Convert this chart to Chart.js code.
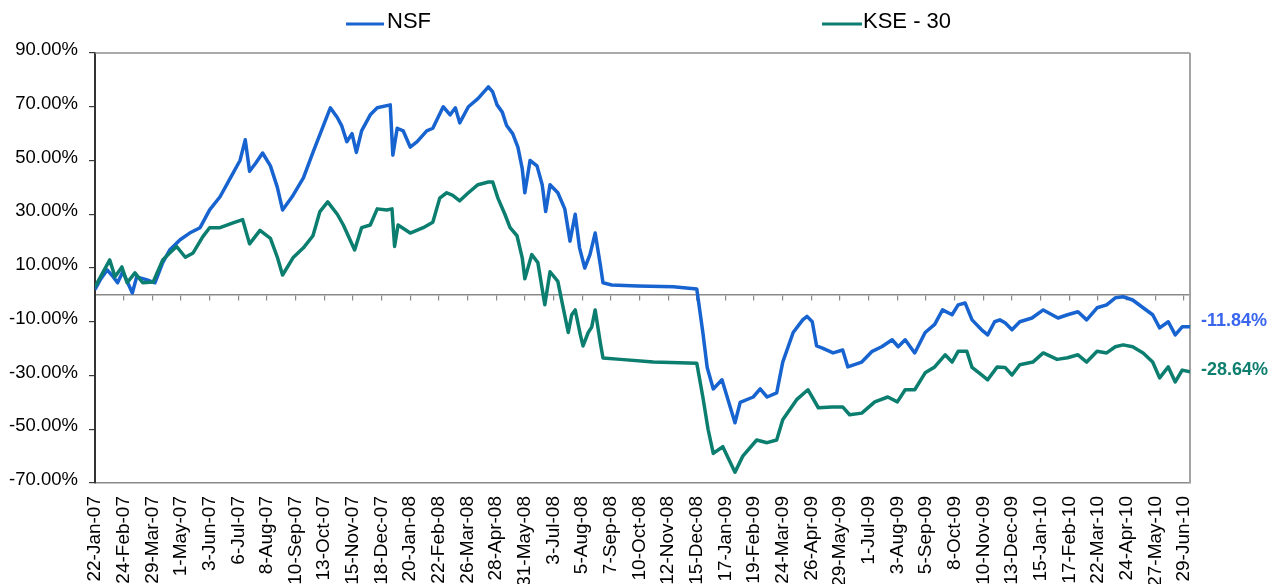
<!DOCTYPE html>
<html>
<head>
<meta charset="utf-8">
<script src="https://cdn.jsdelivr.net/npm/chart.js@4.4.1/dist/chart.umd.min.js"></script>
<style>
html,body{margin:0;padding:0;background:#ffffff;}
#wrap{width:1285px;height:584px;position:relative;}
</style>
</head>
<body>
<div id="wrap"><canvas id="c" width="1285" height="584"></canvas></div>
<script>
// ---------------- data ----------------
const seriesNames = ['NSF', 'KSE - 30'];
const endLabels = ['-11.84%', '-28.64%'];

const xTickLabels = ['22-Jan-07','24-Feb-07','29-Mar-07','1-May-07','3-Jun-07','6-Jul-07','8-Aug-07','10-Sep-07','13-Oct-07','15-Nov-07','18-Dec-07','20-Jan-08','22-Feb-08','26-Mar-08','28-Apr-08','31-May-08','3-Jul-08','5-Aug-08','7-Sep-08','10-Oct-08','12-Nov-08','15-Dec-08','17-Jan-09','19-Feb-09','24-Mar-09','26-Apr-09','29-May-09','1-Jul-09','3-Aug-09','5-Sep-09','8-Oct-09','10-Nov-09','13-Dec-09','15-Jan-10','17-Feb-10','22-Mar-10','24-Apr-10','27-May-10','29-Jun-10'];
const xMaxDay = 1261; // last data day (days after 22-Jan-07)

const yTickValues = [-70, -50, -30, -10, 10, 30, 50, 70, 90];
const yTickLabels = ['-70.00%','-50.00%','-30.00%','-10.00%','10.00%','30.00%','50.00%','70.00%','90.00%'];

// days after 22-Jan-07, cumulative return in %
const nsfDays = [0,6,14,21,26,32,43,48,60,69,78,86,98,109,121,132,144,155,167,173,178,185,193,202,210,216,228,240,251,263,271,279,284,290,296,301,307,317,325,340,343,348,355,363,371,382,389,401,409,415,420,430,441,453,458,463,469,474,481,487,492,495,501,509,515,519,524,533,541,547,553,558,564,570,576,582,585,595,625,666,693,700,705,712,722,737,743,758,766,774,785,792,804,815,820,826,831,837,850,861,867,883,895,906,918,925,933,944,956,967,976,987,994,1002,1010,1021,1028,1036,1042,1048,1056,1065,1079,1092,1109,1120,1132,1142,1154,1165,1175,1184,1195,1207,1218,1226,1236,1244,1252,1261];
const nsfValues = [2,5.6,9.3,6.7,4.5,8.6,0.7,6.7,5.6,4.5,12,16.7,20.5,23,25,31.6,36.5,43,50,57.7,46,49,52.8,48,40,31.6,37,43.5,53,63,69.6,66,63,57,60,53,61,67,69.6,70.7,52,62,61,55,57,61,62,70,67,69.6,64,70,73,77.4,75.5,70.7,68,63,60,55,47,38,50,48,41,31,41,38,32,20,30,17.5,10,15,23,11,4.5,3.7,3.3,3,2.2,-14,-27,-35,-31.6,-47.6,-40,-38,-35,-38,-36.5,-25,-14,-9.3,-8,-10,-19,-19.7,-21.6,-20.5,-26.8,-25,-21,-19.3,-16.7,-19.3,-16.7,-21.6,-14,-11,-5.6,-7.4,-3.7,-3,-9.3,-13,-14.9,-10,-9.3,-10.4,-13,-10,-8.6,-5.6,-8.6,-7.4,-6.3,-9.3,-4.8,-3.7,-1.1,-0.7,-1.9,-4.8,-7.4,-12.3,-10,-14.9,-11.9,-11.84];

const kseDays = [0,17,23,31,37,46,55,67,78,86,94,104,113,124,132,144,159,170,178,190,202,210,216,228,240,251,259,268,279,286,299,307,317,325,336,342,345,349,363,378,389,397,405,412,420,430,441,453,458,464,472,478,486,492,495,503,510,518,524,533,538,545,549,553,559,562,568,572,576,582,585,605,643,693,700,706,712,723,737,746,762,774,785,792,808,821,833,849,861,869,883,898,913,924,933,944,956,967,979,987,994,1004,1010,1021,1028,1039,1048,1056,1065,1080,1092,1108,1120,1132,1142,1154,1165,1175,1184,1195,1207,1218,1226,1236,1244,1252,1261];
const kseValues = [3,13,6.7,10.4,4.5,8.2,4.5,4.8,13,15.6,18,14,15.6,21.6,25,25,26.8,28,19,24,21,14,7.4,13.8,17.5,22,31,34.6,30,26,16.7,25,26,32,31.6,32,18,26,23,25,27,36,38,37,35,38,41,42,42,36,30,25,22,13.8,6,15,12,-3.7,8.6,5,-3,-14,-7.4,-5.6,-15,-19,-14,-12,-5.6,-18,-23.5,-24,-25,-25.4,-38,-50,-59,-56.5,-66,-60,-54,-55,-54,-46.5,-39,-35.3,-42,-41.7,-41.7,-44.6,-44,-39.8,-38,-39.8,-35.3,-35.3,-29,-26.8,-22.3,-25,-21,-21,-27,-29.8,-31.6,-26.8,-27,-29.8,-26,-25,-21.6,-24,-23.4,-22.3,-25,-21,-21.6,-19.3,-18.6,-19.3,-21.6,-25,-30.9,-26.8,-32.4,-28,-28.64];

// ---------------- helpers ----------------
const MONTHS = {Jan:0,Feb:1,Mar:2,Apr:3,May:4,Jun:5,Jul:6,Aug:7,Sep:8,Oct:9,Nov:10,Dec:11};
function labelToDay(s){ const p = s.split('-'); return Date.UTC(2000 + Number(p[2]), MONTHS[p[1]], Number(p[0])) / 86400000; }
const baseDay = labelToDay(xTickLabels[0]);
const xTickDays = xTickLabels.map(s => labelToDay(s) - baseDay);

function toPoints(days, vals){ return days.map((d, i) => ({x: d, y: vals[i]})); }

const FONT = 'Arial, "Liberation Sans", sans-serif';
const colors = {
  nsf: '#1763d0',
  kse: '#0b7e6f',
  nsfLabel: '#3a66ee',
  kseLabel: '#0e7e6e'
};

// plot frame (top and right edges)
const framePlugin = {
  id: 'frame',
  beforeDatasetsDraw(chart){
    const {ctx, chartArea: a} = chart;
    ctx.save();
    ctx.strokeStyle = '#8e8e8e';
    ctx.lineWidth = 1.5;
    ctx.beginPath();
    ctx.moveTo(a.left, a.top);
    ctx.lineTo(a.right, a.top);
    ctx.stroke();
    ctx.strokeStyle = '#a3a3a3';
    ctx.lineWidth = 2;
    ctx.beginPath();
    ctx.moveTo(a.right, a.top);
    ctx.lineTo(a.right, a.bottom);
    ctx.stroke();
    ctx.restore();
  }
};

// labels at the end of each series
const endLabelPlugin = {
  id: 'endLabels',
  afterDatasetsDraw(chart){
    const ctx = chart.ctx;
    chart.data.datasets.forEach((ds, i) => {
      const meta = chart.getDatasetMeta(i);
      const pt = meta.data[meta.data.length - 1];
      if (!pt) return;
      ctx.save();
      ctx.font = 'bold 18px ' + FONT;
      ctx.fillStyle = ds.endLabelColor;
      ctx.textAlign = 'left';
      ctx.textBaseline = 'middle';
      ctx.fillText(ds.endLabel, chart.chartArea.right + 11, pt.y + ds.endLabelShift);
      ctx.restore();
    });
  }
};

// legend with short line samples
const legendPlugin = {
  id: 'lineLegend',
  afterDraw(chart){
    const ctx = chart.ctx;
    const slots = [{x: 346, w: 38, tx: 387}, {x: 822, w: 40, tx: 863}];
    chart.data.datasets.forEach((ds, i) => {
      const s = slots[i];
      ctx.save();
      ctx.strokeStyle = ds.borderColor;
      ctx.lineWidth = 3;
      ctx.beginPath();
      ctx.moveTo(s.x, 24);
      ctx.lineTo(s.x + s.w, 24);
      ctx.stroke();
      ctx.font = '22px ' + FONT;
      ctx.fillStyle = '#000';
      ctx.textAlign = 'left';
      ctx.textBaseline = 'middle';
      ctx.fillText(ds.label, s.tx, 22);
      ctx.restore();
    });
  }
};

const setXTicks = (axis) => { axis.ticks = xTickDays.map(v => ({value: v})); };

new Chart(document.getElementById('c'), {
  type: 'line',
  data: {
    datasets: [
      {
        label: seriesNames[0],
        data: toPoints(nsfDays, nsfValues),
        borderColor: colors.nsf,
        backgroundColor: colors.nsf,
        borderWidth: 3.5,
        pointRadius: 0,
        tension: 0,
        borderJoinStyle: 'round',
        order: 1,
        endLabel: endLabels[0],
        endLabelColor: colors.nsfLabel,
        endLabelShift: -6
      },
      {
        label: seriesNames[1],
        data: toPoints(kseDays, kseValues),
        borderColor: colors.kse,
        backgroundColor: colors.kse,
        borderWidth: 3.5,
        pointRadius: 0,
        tension: 0,
        borderJoinStyle: 'round',
        order: 0,
        endLabel: endLabels[1],
        endLabelColor: colors.kseLabel,
        endLabelShift: -2
      }
    ]
  },
  options: {
    responsive: false,
    animation: false,
    devicePixelRatio: 1,
    layout: { padding: { top: 53, right: 95, left: 0, bottom: 0 } },
    plugins: {
      legend: { display: false },
      tooltip: { enabled: false }
    },
    scales: {
      x: {
        type: 'linear',
        position: 'bottom',
        min: 0,
        max: xMaxDay,
        afterBuildTicks: setXTicks,
        afterFit: (s) => { s.height = 101; },
        ticks: {
          autoSkip: false,
          minRotation: 90,
          maxRotation: 90,
          padding: 13,
          color: '#000',
          font: { family: FONT, size: 19 },
          callback: (v, i) => xTickLabels[i]
        },
        grid: { display: false, drawTicks: false },
        border: { display: true, color: '#8a8a8a', width: 1.5 }
      },
      xZero: {
        type: 'linear',
        axis: 'x',
        display: true,
        position: { y: 0 },
        min: 0,
        max: xMaxDay,
        afterBuildTicks: setXTicks,
        ticks: { display: false },
        grid: { display: true, drawOnChartArea: false, drawTicks: true, tickLength: 5, color: '#8a8a8a', lineWidth: 1.2 },
        border: { display: true, color: '#8a8a8a', width: 1.5 }
      },
      y: {
        type: 'linear',
        position: 'left',
        min: -70,
        max: 90,
        afterBuildTicks: (axis) => { axis.ticks = yTickValues.map(v => ({value: v})); },
        afterFit: (s) => { s.width = 95; },
        ticks: {
          padding: 11,
          labelOffset: -3,
          color: '#000',
          font: { family: FONT, size: 18.5 },
          callback: (v, i) => yTickLabels[i]
        },
        grid: { display: true, drawOnChartArea: false, drawTicks: true, tickLength: 6, color: '#3a3a3a', lineWidth: 1.2 },
        border: { display: true, color: '#333333', width: 2 }
      }
    }
  },
  plugins: [framePlugin, endLabelPlugin, legendPlugin]
});
</script>
</body>
</html>
